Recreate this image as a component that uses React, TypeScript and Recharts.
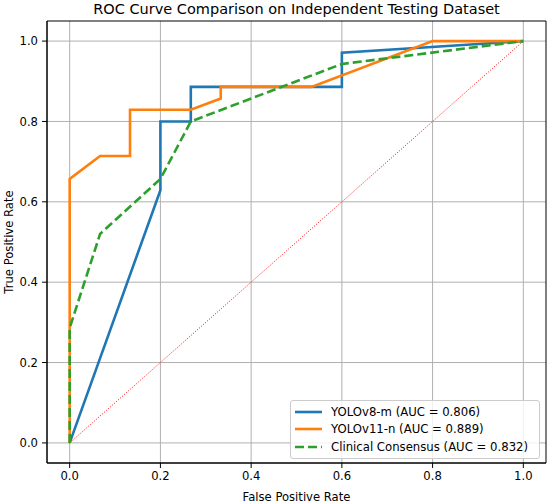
import { LineChart, Line, XAxis, YAxis, CartesianGrid, ReferenceArea } from "recharts";

// false/true positive rates
const yolo8Fpr = [0, 0.2, 0.2, 0.267, 0.267, 0.6, 0.6, 1.0];
const yolo8Tpr = [0, 0.629, 0.8, 0.8, 0.886, 0.886, 0.971, 1.0];

const yolo11Fpr = [0, 0, 0.067, 0.133, 0.133, 0.267, 0.333, 0.333, 0.533, 0.8, 1.0];
const yolo11Tpr = [0, 0.657, 0.714, 0.714, 0.829, 0.829, 0.857, 0.886, 0.886, 1.0, 1.0];

const clinicalFpr = [0, 0, 0.067, 0.2, 0.267, 0.6, 1.0];
const clinicalTpr = [0, 0.286, 0.52, 0.657, 0.8, 0.943, 1.0];

const chanceFpr = [0, 1];
const chanceTpr = [0, 1];

const ticks = [0, 0.2, 0.4, 0.6, 0.8, 1.0];

const series = [
  { name: "YOLOv8-m (AUC = 0.806)", color: "#1f77b4", dash: undefined as string | undefined },
  { name: "YOLOv11-n (AUC = 0.889)", color: "#ff7f0e", dash: undefined as string | undefined },
  { name: "Clinical Consensus (AUC = 0.832)", color: "#2ca02c", dash: "9 4" },
];

const toPts = (xs: number[], ys: number[]) => xs.map((x, i) => ({ x, y: ys[i] }));

const font = "'DejaVu Sans', sans-serif";

function LegendBox() {
  return (
    <div
      style={{
        position: "absolute",
        left: 290,
        top: 400,
        width: 250,
        height: 59,
        background: "rgba(255,255,255,0.8)",
        border: "1px solid #cccccc",
        borderRadius: 3,
        padding: "2px 6px 2px 4px",
        fontFamily: font,
        fontSize: 11.7,
        color: "#000",
        boxSizing: "border-box",
      }}
    >
      {series.map((s) => (
        <div key={s.name} style={{ display: "flex", alignItems: "center", height: 17.6 }}>
          <svg width={27} height={6} style={{ marginRight: 9 }}>
            <line x1={0} y1={3} x2={27} y2={3} stroke={s.color} strokeWidth={2.6} strokeDasharray={s.dash} />
          </svg>
          <span>{s.name}</span>
        </div>
      ))}
    </div>
  );
}

export default function App() {
  const tick = { fontSize: 11.6, fill: "#000", fontFamily: font };
  return (
    <div style={{ position: "absolute", left: 0, top: 0, width: 550, height: 503, background: "#fff" }}>
      <div
        style={{
          position: "absolute",
          left: 47,
          width: 499,
          top: 0,
          textAlign: "center",
          fontFamily: font,
          fontSize: 14.5,
          lineHeight: "18px",
          color: "#000",
        }}
      >
        ROC Curve Comparison on Independent Testing Dataset
      </div>
      <LineChart width={550} height={503} margin={{ top: 21, right: 4, bottom: 0, left: 0 }}>
        <CartesianGrid stroke="#b0b0b0" strokeWidth={1} horizontalValues={ticks} verticalValues={ticks} />
        <XAxis
          type="number"
          dataKey="x"
          domain={[-0.05, 1.05]}
          ticks={ticks}
          allowDataOverflow
          tickFormatter={(v: number) => v.toFixed(1)}
          tick={tick}
          tickSize={5}
          tickMargin={4}
          height={40}
          stroke="#000"
          label={{ value: "False Positive Rate", position: "insideBottom", offset: 2, style: { ...tick, textAnchor: "middle" } }}
        />
        <YAxis
          type="number"
          dataKey="y"
          domain={[-0.05, 1.05]}
          ticks={ticks}
          allowDataOverflow
          tickFormatter={(v: number) => v.toFixed(1)}
          tick={tick}
          tickSize={5}
          tickMargin={4}
          width={47}
          stroke="#000"
          label={{ value: "True Positive Rate", angle: -90, position: "insideLeft", offset: 9, style: { ...tick, textAnchor: "middle" } }}
        />
        <ReferenceArea x1={-0.05} x2={1.05} y1={-0.05} y2={1.05} fill="none" stroke="#000" strokeWidth={1} ifOverflow="visible" />
        <Line
          data={toPts(chanceFpr, chanceTpr)}
          dataKey="y"
          stroke="#ff0000"
          strokeWidth={1}
          strokeDasharray="1 1.7"
          dot={false}
          type="linear"
          isAnimationActive={false}
          legendType="none"
        />
        <Line
          data={toPts(yolo8Fpr, yolo8Tpr)}
          dataKey="y"
          name={series[0].name}
          stroke={series[0].color}
          strokeWidth={2.6}
          dot={false}
          type="linear"
          isAnimationActive={false}
        />
        <Line
          data={toPts(yolo11Fpr, yolo11Tpr)}
          dataKey="y"
          name={series[1].name}
          stroke={series[1].color}
          strokeWidth={2.6}
          dot={false}
          type="linear"
          isAnimationActive={false}
        />
        <Line
          data={toPts(clinicalFpr, clinicalTpr)}
          dataKey="y"
          name={series[2].name}
          stroke={series[2].color}
          strokeWidth={2.6}
          strokeDasharray="9 4"
          dot={false}
          type="linear"
          isAnimationActive={false}
        />
      </LineChart>
      <LegendBox />
    </div>
  );
}
